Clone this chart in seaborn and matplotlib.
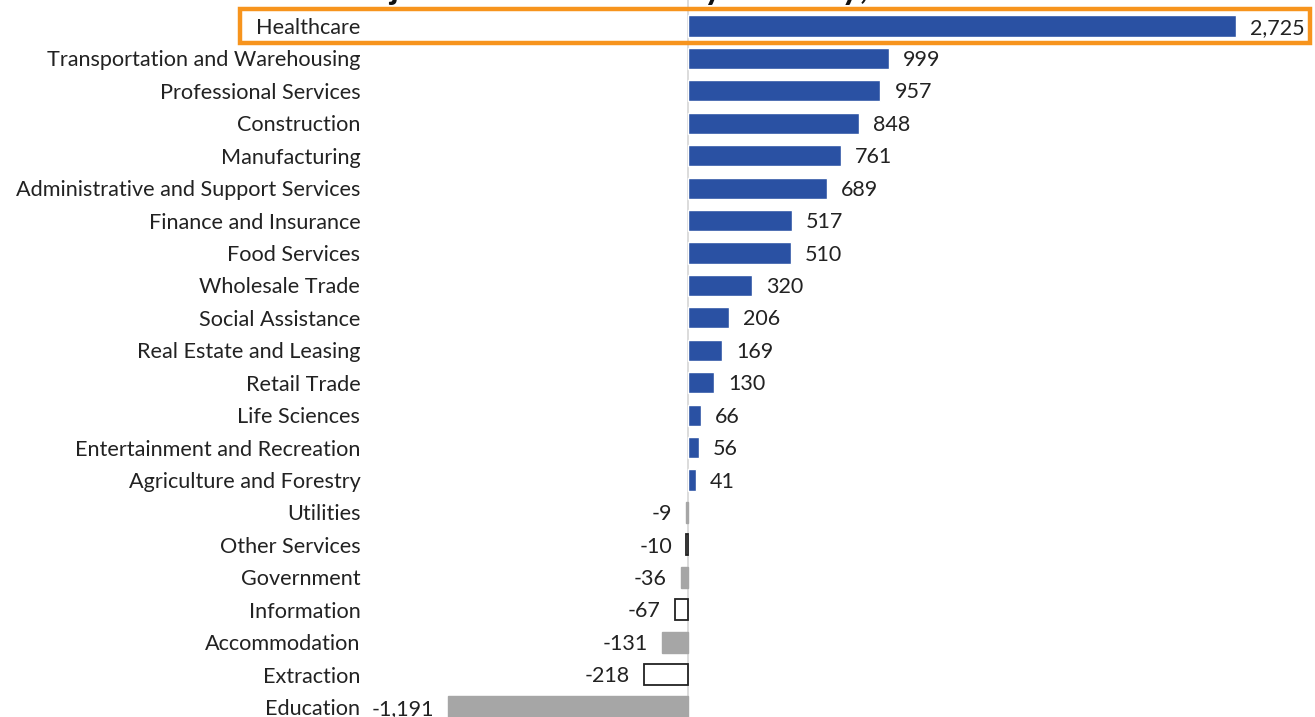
import numpy as np
import pandas as pd
import matplotlib.pyplot as plt
import seaborn as sns
from matplotlib.patches import Rectangle

# Net job change by industry
industries = [
    "Healthcare", "Transportation and Warehousing", "Professional Services",
    "Construction", "Manufacturing", "Administrative and Support Services",
    "Finance and Insurance", "Food Services", "Wholesale Trade",
    "Social Assistance", "Real Estate and Leasing", "Retail Trade",
    "Life Sciences", "Entertainment and Recreation", "Agriculture and Forestry",
    "Utilities", "Other Services", "Government", "Information",
    "Accommodation", "Extraction", "Education",
]
change = [2725, 999, 957, 848, 761, 689, 517, 510, 320, 206, 169, 130,
          66, 56, 41, -9, -10, -36, -67, -131, -218, -1191]
# bar style per row: "pos" blue, "gray" filled grey, "open" outlined
styles = ["pos"] * 15 + ["gray", "open", "gray", "open", "gray", "open", "gray"]

df = pd.DataFrame({"Industry": industries, "Change": change, "Style": styles})

BLUE = "#2A51A3"
GRAY = "#A6A6A6"
ORANGE = "#F7941D"

sns.set_theme(style="white")
plt.rcParams["font.family"] = ["Lato", "DejaVu Sans"]

fig = plt.figure(figsize=(13.15, 7.17), dpi=100)
ax = fig.add_axes([370 / 1315, 0, 1 - 370 / 1315, 1])

n = len(df)
sns.barplot(data=df, y="Industry", x="Change", hue="Industry", legend=False,
            palette=[BLUE] * n, saturation=1, orient="h", width=0.65, ax=ax)

for patch, st in zip(ax.patches, df["Style"]):
    if st == "gray":
        patch.set_facecolor(GRAY)
        patch.set_edgecolor(GRAY)
    elif st == "open":
        patch.set_facecolor("white")
        patch.set_edgecolor("#222222")
        patch.set_linewidth(1.3)

# pixel scale: zero at x=688, 0.2011 px per job
px = 0.2011
ax.set_xlim((370 - 688) / px, (1315 - 688) / px)
row_px = 32.43
ax.set_ylim((717 - 26) / row_px, -26 / row_px)

ax.axvline(0, color="#D6D6D6", lw=1.2, zorder=0)

for i, v in enumerate(df["Change"]):
    lab = f"{v:,}"
    if v >= 0:
        ax.text(v + 14 / px, i + 0.05, lab, va="center", ha="left", fontsize=15.5, color="#222222")
    else:
        ax.text(v - 14 / px, i + 0.05, lab, va="center", ha="right", fontsize=15.5, color="#222222")

ax.tick_params(axis="y", length=0, pad=7, labelsize=15.6, labelcolor="#222222")
ax.set_ylabel("")
ax.set_xlabel("")
ax.set_xticks([])
for s in ax.spines.values():
    s.set_visible(False)

# highlight box around Healthcare row
fig.patches.append(Rectangle((240 / 1315, 1 - 43 / 717), (1310 - 240) / 1315, 34 / 717,
                             transform=fig.transFigure, fill=False,
                             edgecolor=ORANGE, lw=3.2, zorder=10))

# title, mostly cropped off the top (as in the source image)
fig.text(693 / 1315, 1 + 1 / 717, "Projected Job Growth by Industry, 2023-2033",
         ha="center", va="baseline", fontsize=25, fontweight="bold", color="#111111")

fig.savefig("out.png", dpi=100)
